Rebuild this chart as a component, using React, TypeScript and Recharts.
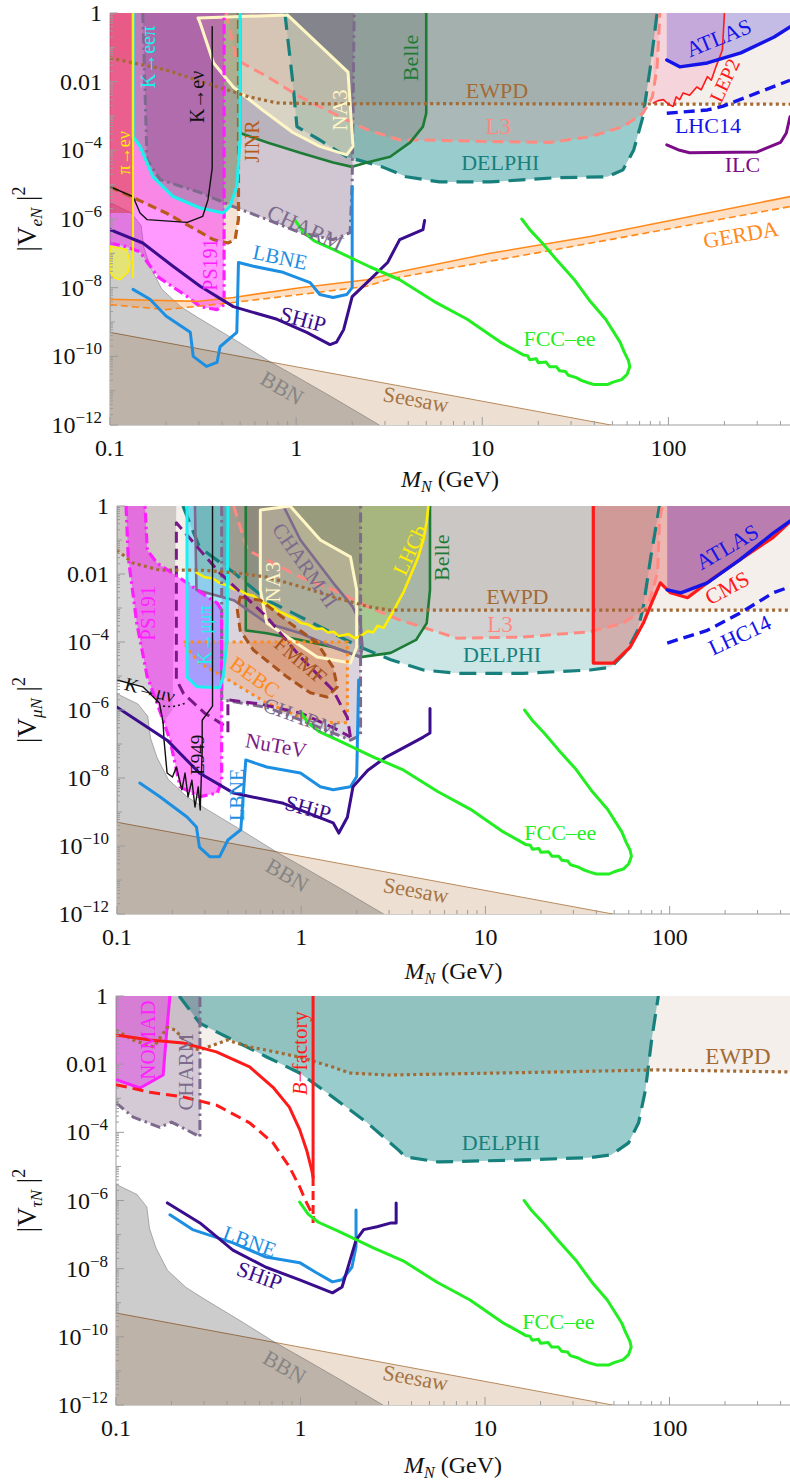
import React from 'react';
import { ComposedChart, Scatter, XAxis, YAxis } from 'recharts';

type Pt = [number, number];

const SERIF = "'Liberation Serif', Tinos, 'Nimbus Roman', 'Times New Roman', 'DejaVu Serif', FreeSerif, serif";
const FRAME = '#9c9c9c';
const X_DOMAIN: [number, number] = [0.1, 450];
const Y_DOMAIN: [number, number] = [1e-12, 1];

// ---------- axis ticks ----------
const xMajorTicks = [0.1, 1, 10, 100];
const xTickLabels = ['0.1', '1', '10', '100'];
const yMajorTicks = [1, 1e-2, 1e-4, 1e-6, 1e-8, 1e-10, 1e-12];
const yTickLabels = ['1', '0.01', '10^−4', '10^−6', '10^−8', '10^−10', '10^−12'];
const yDecadeTicks = [1e-1, 1e-3, 1e-5, 1e-7, 1e-9, 1e-11];

const xMinorTicks: number[] = [];
[0.1, 1, 10, 100].forEach((d) => {
  for (let m = 2; m <= 9; m++) if (m * d <= 450) xMinorTicks.push(m * d);
});
const yMinorTicks: number[] = [];
for (let k = -12; k < 0; k++) for (let m = 2; m <= 9; m++) yMinorTicks.push(m * Math.pow(10, k));

const xTicks = [...xMajorTicks, ...xMinorTicks].sort((a, b) => a - b);
const yTicks = [...yMajorTicks, ...yDecadeTicks, ...yMinorTicks].sort((a, b) => a - b);

// ---------- curves shared by all three panels ----------
const bbn: Pt[] = [[0.1, 3e-6], [0.13, 1.5e-6], [0.147, 6.5e-7], [0.152, 1.5e-7], [0.165, 4e-8], [0.19, 9e-9], [0.24, 2.8e-9], [0.3, 1.3e-9], [0.47, 3e-10], [0.74, 6.5e-11], [1.0, 2.6e-11], [1.6, 6e-12], [2.8, 1e-12]];
const seesaw: Pt[] = [[0.1, 5e-10], [49, 1e-12]];
const fccEE: Pt[] = [[0.99, 9e-7], [1.1, 4e-7], [1.25, 2.3e-7], [1.58, 1.3e-7], [2.5, 4e-8], [3.6, 1.7e-8], [5.5, 4e-9], [8.3, 1.2e-9], [12.5, 2.6e-10], [16.6, 1.1e-10], [17.5, 1.05e-10], [18, 8e-11], [19.5, 8.5e-11], [20, 6.5e-11], [22, 6.8e-11], [23, 5e-11], [25, 5e-11], [26, 3.8e-11], [28, 3.6e-11], [29, 2.8e-11], [32, 2.4e-11], [34, 2e-11], [37, 1.7e-11], [40, 1.5e-11], [47, 1.5e-11], [50, 1.75e-11], [56, 2.1e-11], [60, 3e-11], [62, 5e-11], [61, 7.5e-11], [58, 1.3e-10], [55, 2.6e-10], [46, 1.2e-9], [38, 4e-9], [31, 1.8e-8], [25, 6.6e-8], [21, 2e-7], [18, 4.9e-7], [16.3, 1e-6]];

// ---------- |V_eN|^2 ----------
const eEWPD: Pt[] = [[0.1, 0.049], [0.2, 0.022], [0.38, 7e-3], [0.56, 3.6e-3], [0.79, 2.4e-3], [1.5, 2.25e-3], [3.6, 2.3e-3], [450, 2.2e-3]];
const eDELPHI: Pt[] = [[0.87, 1], [0.96, 9.3e-3], [1.01, 4.9e-4], [1.34, 2e-4], [1.87, 6.5e-5], [2.9, 3.3e-5], [3.9, 1.7e-5], [5.9, 1.2e-5], [11, 1.2e-5], [25, 1.6e-5], [47, 1.7e-5], [57, 2.7e-5], [65, 1e-4], [73, 9.5e-4], [80, 0.027], [87, 1]];
const eL3: Pt[] = [[0.42, 1], [0.48, 0.043], [0.7, 0.014], [1.05, 3.6e-3], [1.58, 1.2e-3], [2.4, 4e-4], [3.6, 2e-4], [4.8, 2e-4], [11, 1.8e-4], [23, 1.7e-4], [38, 2.5e-4], [57, 4.9e-4], [73, 1.2e-3], [82, 3.6e-3], [87, 0.027], [90, 1]];
const eBelle: Pt[] = [[0.5, 1], [0.5, 3.2e-4], [0.7, 1.7e-4], [1.05, 8.5e-5], [1.58, 4.4e-5], [2.0, 3.3e-5], [2.4, 4.4e-5], [3.2, 6.5e-5], [4.1, 1.7e-4], [4.8, 4.9e-4], [5.0, 1.2e-3], [5.0, 1]];
const eCHARM: Pt[] = [[0.15, 1], [0.158, 5.4e-5], [0.186, 1.4e-5], [0.305, 5.9e-6], [0.46, 2.3e-6], [0.7, 9.6e-7], [1.05, 4e-7], [1.58, 2.5e-7], [1.95, 4e-7], [2.0, 1.1e-5], [2.05, 1]];
const eNA3: Pt[] = [[0.297, 0.72], [0.9, 0.87], [1.9, 0.019], [2.02, 1.3e-4], [1.87, 7.4e-5], [1.34, 1.3e-4], [0.96, 3.3e-4], [0.66, 1.5e-3], [0.46, 7e-3], [0.36, 0.035], [0.305, 0.51]];
const eJINR: Pt[] = [[0.1, 8.7e-6], [0.2, 1.5e-6], [0.36, 2.5e-7], [0.43, 2e-7], [0.47, 2.5e-7], [0.49, 1e-6], [0.49, 1]];
const ePS191: Pt[] = [[0.1, 2e-7], [0.12, 1.6e-7], [0.145, 1.1e-7], [0.18, 2.1e-8], [0.26, 5.5e-9], [0.305, 2.8e-9], [0.376, 2.3e-9], [0.41, 3.2e-9], [0.41, 1]];
const eKeePi: Pt[] = [[0.133, 1], [0.133, 2.5e-4], [0.145, 1.3e-4], [0.17, 1.7e-5], [0.218, 4.5e-6], [0.305, 2.1e-6], [0.405, 1.5e-6], [0.44, 2.3e-6], [0.48, 8.7e-6], [0.5, 2e-4], [0.5, 1]];
const eKeNu: Pt[] = [[0.1, 8.7e-6], [0.133, 4.5e-6], [0.145, 1.5e-6], [0.158, 9.6e-7], [0.26, 8e-7], [0.315, 1.2e-6], [0.336, 3.6e-6], [0.354, 3e-5], [0.354, 0.4]];
const ePiENuBand: Pt[] = [[0.1, 1.5e-6], [0.133, 1.5e-6], [0.133, 1]];
const ePiENuLine: Pt[] = [[0.133, 1], [0.133, 2e-8]];
const ePiENuBlob: Pt[] = [[0.1, 1.6e-7], [0.123, 1.3e-7], [0.128, 5.4e-8], [0.125, 2.8e-8], [0.113, 1.7e-8], [0.104, 2e-8], [0.1, 3e-8]];
const eGerdaUpper: Pt[] = [[0.1, 4.6e-9], [0.3, 4e-9], [0.46, 5.2e-9], [1.05, 1e-8], [2.4, 1.7e-8], [3.6, 2.9e-8], [11, 1e-7], [38, 3.1e-7], [450, 4.5e-6]];
const eGerdaLower: Pt[] = [[0.1, 3.2e-9], [0.2, 2.3e-9], [0.46, 3.7e-9], [1.05, 6.3e-9], [2.4, 1.1e-8], [3.2, 1.8e-8], [25, 1.3e-7], [450, 2.3e-6]];
const eATLAS: Pt[] = [[98, 0.043], [115, 0.027], [162, 0.035], [245, 0.069], [370, 0.2], [450, 0.39]];
const eLEP2: Pt[] = [[83, 2.4e-3], [88, 2.8e-3], [94, 3e-3], [100, 2.2e-3], [106, 1.9e-3], [110, 3.6e-3], [115, 3e-3], [120, 4.7e-3], [130, 4e-3], [142, 7e-3], [150, 5.8e-3], [162, 0.014], [170, 0.011], [180, 0.027], [195, 0.084], [200, 1]];
const eLHC14: Pt[] = [[98, 1.2e-3], [162, 1.5e-3], [195, 1.9e-3], [300, 4.7e-3], [450, 0.011]];
const eILC: Pt[] = [[98, 1.45e-4], [115, 1e-4], [130, 8.5e-5], [300, 9e-5], [400, 1.7e-4], [430, 3.2e-4], [450, 9.5e-4]];
const eLBNE: Pt[] = [[0.133, 8.9e-9], [0.164, 4.6e-9], [0.2, 1.5e-9], [0.27, 5e-10], [0.28, 1e-10], [0.33, 5.1e-11], [0.376, 6.7e-11], [0.39, 1.9e-10], [0.48, 5e-10], [0.49, 5.4e-8], [0.59, 4.2e-8], [0.85, 2.8e-8], [1.19, 1.4e-8], [1.34, 6.3e-9], [1.58, 5.2e-9], [1.87, 6.3e-9], [2.0, 1e-8], [2.0, 8.7e-6]];
const eSHiP: Pt[] = [[0.1, 4.9e-7], [0.15, 2e-7], [0.218, 4.2e-8], [0.305, 1.1e-8], [0.46, 2.8e-9], [0.79, 1.2e-9], [1.14, 5e-10], [1.52, 2.2e-10], [1.65, 2.6e-10], [1.8, 6e-10], [2.0, 5.5e-9], [2.4, 1.4e-8], [3.1, 5.4e-8], [3.6, 2.5e-7], [4.8, 4.9e-7], [4.9, 9e-7]];

// ---------- |V_muN|^2 ----------
const mEWPD: Pt[] = [[0.1, 0.051], [0.122, 0.021], [0.17, 0.013], [0.28, 0.013], [0.43, 0.011], [0.65, 8.1e-3], [1, 4.2e-3], [1.5, 2.1e-3], [2.3, 1.1e-3], [3, 8.7e-4], [450, 8.7e-4]];
const mDELPHI: Pt[] = [[0.228, 1], [0.28, 0.062], [0.43, 0.011], [0.65, 1.7e-3], [0.99, 5.5e-4], [1.49, 1.8e-4], [2.1, 7e-5], [3.06, 3e-5], [4.6, 1.5e-5], [7, 1.2e-5], [16, 1.2e-5], [37, 1.5e-5], [48, 1.8e-5], [59, 5.8e-5], [67, 2.2e-4], [72, 1.1e-3], [79, 0.032], [86, 0.47], [88, 1]];
const mL3: Pt[] = [[0.43, 1], [0.51, 0.051], [0.65, 0.026], [0.99, 8.1e-3], [1.49, 3.4e-3], [2.3, 1.1e-3], [3.4, 4.5e-4], [7, 1.3e-4], [16, 1.4e-4], [37, 2e-4], [56, 3.6e-4], [76, 1.1e-3], [86, 0.011], [88, 0.32], [91, 1]];
const mBelle: Pt[] = [[0.5, 1], [0.5, 2.2e-4], [0.65, 1.8e-4], [0.99, 1.15e-4], [1.49, 7e-5], [2.1, 3.6e-5], [3.06, 4.8e-5], [4.2, 1.15e-4], [4.8, 3.6e-4], [5, 3.4e-3], [5, 1]];
const mLHCb: Pt[] = [[0.27, 0.011], [0.3, 8e-3], [0.33, 7.5e-3], [0.36, 5.5e-3], [0.4, 4.5e-3], [0.43, 3.6e-3], [0.47, 3.2e-3], [0.5, 2.6e-3], [0.55, 2.3e-3], [0.6, 1.6e-3], [0.65, 1.3e-3], [0.7, 1.1e-3], [0.75, 8e-4], [0.8, 7e-4], [0.87, 5.5e-4], [0.93, 4.8e-4], [1.0, 3.6e-4], [1.1, 3.2e-4], [1.2, 2.4e-4], [1.3, 2.5e-4], [1.4, 1.9e-4], [1.5, 2e-4], [1.6, 1.5e-4], [1.8, 1.7e-4], [1.95, 1.3e-4], [2.1, 1.5e-4], [2.3, 2.1e-4], [2.45, 1.9e-4], [2.6, 3e-4], [2.8, 2.6e-4], [3.0, 5e-4], [3.2, 9e-4], [3.4, 1.7e-3], [3.6, 3e-3], [3.8, 6e-3], [4.1, 0.016], [4.3, 0.03], [4.6, 0.1], [4.8, 0.35], [4.9, 1]];
const mCHARMII: Pt[] = [[0.265, 1], [0.27, 3.4e-3], [0.43, 1.7e-3], [0.65, 3.6e-4], [0.99, 1.8e-4], [1.49, 7e-5], [2.1, 3.6e-5], [2.15, 7e-5], [2.1, 3.6e-4], [1.9, 1.1e-3], [1.49, 5.5e-3], [0.99, 0.1], [0.8, 1]];
const mNA3: Pt[] = [[0.6, 0.76], [0.87, 1], [1.27, 0.1], [1.85, 0.032], [2.0, 3.4e-3], [2.0, 7e-5], [1.85, 2.4e-5], [1.22, 3.6e-5], [0.65, 3.6e-4], [0.6, 3.4e-3]];
const mFMMF: Pt[] = [[0.466, 2.1e-3], [0.6, 1.7e-3], [0.87, 3.6e-4], [1.22, 9.3e-5], [1.49, 1.8e-5], [1.57, 4.8e-6], [1.38, 2.4e-6], [1.12, 3.2e-6], [0.84, 9.3e-6], [0.55, 5.8e-5], [0.466, 2.2e-4], [0.45, 8.7e-4]];
const mBEBC: Pt[] = [[0.23, 1e-4], [1.78, 1e-4], [1.78, 4.2e-7], [1.49, 4.2e-7], [0.99, 6.2e-7], [0.65, 1.6e-6], [0.43, 6.2e-6], [0.28, 2.4e-5], [0.25, 5e-5]];
const mCHARM: Pt[] = [[0.37, 1], [0.37, 2e-6], [0.65, 1.2e-6], [0.99, 5.1e-7], [1.49, 2.1e-7], [1.85, 1.3e-7], [2.1, 1.8e-7], [2.1, 1]];
const mNuTeVUpper: Pt[] = [[1.85, 1.6e-7], [1.78, 6e-7], [1.49, 3.8e-6], [0.99, 3.6e-5], [0.65, 5.5e-4], [0.36, 0.011], [0.21, 0.32], [0.21, 8e-6], [0.23, 3e-6], [0.3, 8e-7], [0.4, 3e-7]];
const mNuTeVLower: Pt[] = [[0.4, 2.2e-7], [0.4, 2e-6], [0.6, 1.5e-6], [1.0, 8e-7], [1.5, 3e-7], [1.85, 1.6e-7]];
const mPS191: Pt[] = [[0.112, 1], [0.115, 0.032], [0.128, 3.6e-4], [0.146, 9.3e-6], [0.165, 1.6e-6], [0.194, 1.3e-7], [0.22, 5.5e-9], [0.28, 2.8e-9], [0.35, 3.6e-9], [0.37, 8e-9], [0.37, 8.7e-4], [0.35, 1.4e-3], [0.31, 2.1e-3], [0.24, 5.5e-3], [0.165, 0.021], [0.146, 0.05], [0.142, 1]];
const mKmumupi: Pt[] = [[0.24, 1], [0.24, 9.3e-6], [0.272, 4.8e-6], [0.36, 4.5e-6], [0.377, 9.3e-6], [0.396, 1.1e-4], [0.4, 1]];
const mKmunuRegion: Pt[] = [[0.1, 7.6e-6], [0.138, 4.8e-6], [0.17, 1.6e-6], [0.178, 4.2e-7], [0.2, 1e-6], [0.21, 1]];
const mKmunuLine: Pt[] = [[0.1, 7.6e-6], [0.138, 4.8e-6], [0.17, 1.6e-6], [0.178, 4.2e-7]];
const mKmunuDotted: Pt[] = [[0.178, 1.3e-6], [0.2, 1.25e-6], [0.22, 1.4e-6], [0.236, 1.6e-6]];
const mE949: Pt[] = [[0.178, 4.2e-7], [0.18, 1.3e-7], [0.187, 1.4e-8], [0.2, 1.07e-8], [0.21, 2.1e-8], [0.225, 4.5e-9], [0.234, 1.4e-8], [0.243, 2.8e-9], [0.255, 8.7e-9], [0.265, 1.4e-9], [0.276, 5.5e-9], [0.283, 1.15e-9], [0.29, 6.6e-8], [0.29, 5e-7], [0.33, 1.3e-6], [0.33, 1]];
const mATLAS: Pt[] = [[97, 3.4e-3], [115, 2.8e-3], [160, 5.5e-3], [240, 0.026], [365, 0.16], [450, 0.36]];
const mCMS: Pt[] = [[38.5, 1], [38.5, 2.4e-5], [49.5, 2.4e-5], [61, 7e-5], [72, 3.6e-4], [81, 1.7e-3], [89, 5.5e-3], [101, 2.8e-3], [125, 2e-3], [167, 6.6e-3], [240, 0.026], [365, 0.12], [450, 0.34]];
const mLHC14: Pt[] = [[97, 9.3e-5], [160, 2.2e-4], [240, 7e-4], [365, 2.8e-3], [450, 4.2e-3]];
const mLBNE: Pt[] = [[0.133, 7.1e-9], [0.171, 2.8e-9], [0.24, 7.1e-10], [0.27, 3.6e-10], [0.28, 9.3e-11], [0.32, 4.8e-11], [0.36, 4.8e-11], [0.4, 1.5e-10], [0.47, 3e-10], [0.5, 3.4e-8], [0.65, 2.1e-8], [0.99, 1.4e-8], [1.27, 5.5e-9], [1.49, 4.5e-9], [1.85, 5.5e-9], [2.0, 1.1e-8], [2.05, 7.6e-6]];
const mSHiP: Pt[] = [[0.1, 1.2e-6], [0.187, 1.3e-7], [0.28, 1.4e-8], [0.43, 3.6e-9], [0.8, 1.8e-9], [1.49, 4.8e-10], [1.6, 2.4e-10], [1.78, 7e-10], [1.91, 5.5e-9], [2.3, 1.7e-8], [2.9, 4.2e-8], [3.4, 6.6e-8], [4.6, 1.6e-7], [5, 2.1e-7], [5, 1.1e-6]];

// ---------- |V_tauN|^2 ----------
const tEWPD: Pt[] = [[0.1, 0.1], [0.124, 0.051], [0.16, 0.032], [0.19, 0.12], [0.21, 0.1], [0.25, 0.032], [0.285, 0.026], [0.4, 0.051], [0.53, 0.032], [0.65, 0.026], [0.99, 0.016], [1.49, 8.3e-3], [1.84, 5.5e-3], [3, 4.8e-3], [24, 5.9e-3], [84, 6.8e-3], [450, 5.9e-3]];
const tDELPHI: Pt[] = [[0.22, 1], [0.284, 0.16], [0.43, 0.051], [0.66, 0.016], [0.99, 5.5e-3], [1.49, 1.1e-3], [2.3, 1.9e-4], [3.4, 3e-5], [3.7, 1.9e-5], [5.6, 1.35e-5], [15.8, 1.55e-5], [36.5, 1.8e-5], [48.5, 2.2e-5], [60, 4.9e-5], [68, 1.9e-4], [74, 1.7e-3], [80, 0.051], [87, 1]];
const tCHARM: Pt[] = [[0.1, 7.3e-4], [0.124, 2.8e-4], [0.173, 1.4e-4], [0.2, 2e-4], [0.24, 1.2e-4], [0.285, 7.4e-5], [0.285, 1]];
const tNOMAD: Pt[] = [[0.1, 3.5e-3], [0.135, 2e-3], [0.18, 4.8e-3], [0.19, 0.16], [0.196, 1]];
const tBfacSolid: Pt[] = [[0.1, 0.072], [0.153, 0.051], [0.23, 0.042], [0.35, 0.023], [0.53, 8.3e-3], [0.71, 2.1e-3], [0.87, 5.5e-4], [0.99, 1.2e-4], [1.08, 3e-5], [1.15, 7.9e-6], [1.17, 4.9e-6]];
const tBfacDashed: Pt[] = [[0.1, 2.5e-3], [0.153, 1.5e-3], [0.23, 1.1e-3], [0.35, 6.3e-4], [0.53, 1.9e-4], [0.71, 4.9e-5], [0.87, 9.8e-6], [0.99, 2.5e-6], [1.08, 8.5e-7], [1.15, 4.3e-7], [1.19, 2.7e-7]];
const tBfacEdge: Pt[] = [[1.17, 1], [1.17, 4.9e-6]];
const tBfacEdgeDashed: Pt[] = [[1.17, 4.9e-6], [1.17, 2.2e-7]];
const tLBNE: Pt[] = [[0.196, 3.8e-7], [0.26, 1.4e-7], [0.43, 5.7e-8], [0.65, 2.2e-8], [0.99, 1.5e-8], [1.22, 7.6e-9], [1.49, 4.1e-9], [1.68, 4.7e-9], [1.9, 1.1e-8], [2.0, 4.4e-8], [2.0, 5.3e-7]];
const tSHiP: Pt[] = [[0.19, 8.5e-7], [0.285, 2.2e-7], [0.43, 3.5e-8], [0.65, 1.1e-8], [0.99, 4.7e-9], [1.49, 1.95e-9], [1.68, 2.9e-9], [1.84, 1.5e-8], [2.0, 6.9e-8], [2.2, 1.4e-7], [2.6, 1.7e-7], [3.1, 2.2e-7], [3.3, 2.2e-7], [3.3, 8.5e-7]];

// ---------- text annotations (data coordinates) ----------
type Note = { id: string; text: string; x: number; y: number };
const eNotes: Note[] = [
  { id: 'pienu', text: 'π→eν', x: 0.119, y: 8.5e-5 },
  { id: 'keepi', text: 'K→eeπ', x: 0.16, y: 0.052 },
  { id: 'kenu', text: 'K→eν', x: 0.293, y: 3.6e-3 },
  { id: 'jinr', text: 'JINR', x: 0.58, y: 1.8e-4 },
  { id: 'na3', text: 'NA3', x: 1.72, y: 1.5e-3 },
  { id: 'belle', text: 'Belle', x: 4.1, y: 0.049 },
  { id: 'ewpd', text: 'EWPD', x: 12, y: 5.4e-3 },
  { id: 'l3', text: 'L3', x: 12.2, y: 4.9e-4 },
  { id: 'delphi', text: 'DELPHI', x: 12.5, y: 4.4e-5 },
  { id: 'atlas', text: 'ATLAS', x: 186, y: 0.19 },
  { id: 'lep2', text: 'LEP2', x: 200, y: 0.011 },
  { id: 'lhc14', text: 'LHC14', x: 163, y: 5.2e-4 },
  { id: 'ilc', text: 'ILC', x: 250, y: 3.8e-5 },
  { id: 'gerda', text: 'GERDA', x: 245, y: 3.5e-7 },
  { id: 'charm', text: 'CHARM', x: 1.12, y: 5.6e-7 },
  { id: 'ps191', text: 'PS191', x: 0.345, y: 4.7e-8 },
  { id: 'lbne', text: 'LBNE', x: 0.82, y: 7.6e-8 },
  { id: 'ship', text: 'SHiP', x: 1.09, y: 1.2e-9 },
  { id: 'fcc', text: 'FCC–ee', x: 26, y: 3.2e-10 },
  { id: 'bbn', text: 'BBN', x: 0.84, y: 1.2e-11 },
  { id: 'seesaw', text: 'Seesaw', x: 4.4, y: 5.6e-12 },
];
const mNotes: Note[] = [
  { id: 'ps191', text: 'PS191', x: 0.147, y: 7e-4 },
  { id: 'kmumupi', text: 'K→μμπ', x: 0.3, y: 1.6e-4 },
  { id: 'kmunu', text: 'K→μν', x: 0.151, y: 3.9e-6 },
  { id: 'e949', text: 'E949', x: 0.272, y: 4.8e-8 },
  { id: 'lbneV', text: 'LBNE', x: 0.45, y: 3.2e-9 },
  { id: 'nutev', text: 'NuTeV', x: 0.73, y: 9e-8 },
  { id: 'bebc', text: 'BEBC', x: 0.56, y: 9.3e-6 },
  { id: 'charm', text: 'CHARM', x: 0.99, y: 6.2e-7 },
  { id: 'fmmf', text: 'FMMF', x: 0.99, y: 2.9e-5 },
  { id: 'na3', text: 'NA3', x: 0.7, y: 5.8e-3 },
  { id: 'charm2', text: 'CHARM-II', x: 1.05, y: 0.018 },
  { id: 'lhcb', text: 'LHCb', x: 3.9, y: 0.051 },
  { id: 'belle', text: 'Belle', x: 5.8, y: 0.03 },
  { id: 'ewpd', text: 'EWPD', x: 14.9, y: 2.2e-3 },
  { id: 'l3', text: 'L3', x: 12, y: 3.2e-4 },
  { id: 'delphi', text: 'DELPHI', x: 12.3, y: 4.2e-5 },
  { id: 'atlas', text: 'ATLAS', x: 205, y: 0.063 },
  { id: 'cms', text: 'CMS', x: 205, y: 3.9e-3 },
  { id: 'lhc14', text: 'LHC14', x: 240, y: 1.6e-4 },
  { id: 'ship', text: 'SHiP', x: 1.09, y: 1.3e-9 },
  { id: 'fcc', text: 'FCC–ee', x: 25.5, y: 2.5e-10 },
  { id: 'bbn', text: 'BBN', x: 0.84, y: 1.4e-11 },
  { id: 'seesaw', text: 'Seesaw', x: 4.2, y: 5e-12 },
];
const tNotes: Note[] = [
  { id: 'nomad', text: 'NOMAD', x: 0.149, y: 0.051 },
  { id: 'charmV', text: 'CHARM', x: 0.24, y: 5.9e-3 },
  { id: 'bfac', text: 'B−factory', x: 0.99, y: 0.021 },
  { id: 'ewpd', text: 'EWPD', x: 235, y: 0.017 },
  { id: 'delphi', text: 'DELPHI', x: 12.2, y: 4.9e-5 },
  { id: 'lbne', text: 'LBNE', x: 0.53, y: 6.2e-8 },
  { id: 'ship', text: 'SHiP', x: 0.6, y: 6.2e-9 },
  { id: 'fcc', text: 'FCC–ee', x: 25, y: 2.8e-10 },
  { id: 'bbn', text: 'BBN', x: 0.82, y: 1.3e-11 },
  { id: 'seesaw', text: 'Seesaw', x: 4.2, y: 6.3e-12 },
];

// ---------- styling ----------
const ink = {
  teal: '#17807c',
  salmon: '#ff8a82',
  brown: '#a36a34',
  green: '#1d7b36',
  charm: '#7d6a8c',
  cream: '#fff6c6',
  jinr: '#b85a18',
  magenta: '#ff1eff',
  cyan: '#1ef0f0',
  blue: '#1414e8',
  red: '#ff1a1a',
  purple: '#7a0c88',
  orange: '#ff8a1c',
  lbne: '#1d8fe3',
  ship: '#3a0d8c',
  fcc: '#22ee22',
  yellow: '#ffee00',
  seesaw: '#a67444',
  black: '#111111',
  bebc: '#ff8a1c',
  fmmf: '#a8521c',
  nutev: '#7a1a88',
};

type Look = { fill?: string; edge?: string; width?: number; dash?: string; close?: 'top' | 'bottom' | 'self' | 'open' };
type LayerDef = { data: Pt[]; look: Look };
const lay = (data: Pt[], look: Look): LayerDef => ({ data, look });

const DOT = '3 3.4';
const DASH = '11 6';
const LONGDASH = '17 9';
const DASHDOT = '10 4 2.5 4';

const seesawLook: Look = { fill: '#ede0d3', edge: '#b98a5c', width: 1, close: 'bottom' };
const bbnLook: Look = { fill: 'rgba(0,0,0,0.2)', edge: 'rgba(90,90,90,0.55)', width: 0.8, close: 'bottom' };
const fccLook: Look = { edge: ink.fcc, width: 3 };
const ewpdLine: Look = { edge: ink.brown, width: 3.2, dash: DOT };
const ewpdArea: Look = { fill: 'rgba(150,100,50,0.1)', close: 'top' };

const eLayers: LayerDef[] = [
  lay(seesaw, seesawLook),
  lay(bbn, bbnLook),
  lay([...eGerdaUpper, ...[...eGerdaLower].reverse()], { fill: 'rgba(255,150,60,0.3)', close: 'self' }),
  lay(eEWPD, ewpdArea),
  lay(eDELPHI, { fill: 'rgba(0,128,128,0.4)', close: 'top' }),
  lay(eL3, { fill: 'rgba(255,90,90,0.17)', close: 'top' }),
  lay(eLEP2, { fill: 'rgba(255,80,140,0.16)', close: 'top' }),
  lay(eATLAS, { fill: 'rgba(90,70,220,0.3)', close: 'top' }),
  lay(eBelle, { fill: 'rgba(40,70,50,0.15)', close: 'top' }),
  lay(eCHARM, { fill: 'rgba(100,70,110,0.3)', close: 'top' }),
  lay(eNA3, { fill: 'rgba(255,250,205,0.45)', close: 'self' }),
  lay(eJINR, { fill: 'rgba(210,110,40,0.2)', close: 'top' }),
  lay(ePS191, { fill: 'rgba(255,0,255,0.4)', close: 'top' }),
  lay(ePiENuBand, { fill: 'rgba(215,40,20,0.42)', close: 'top' }),
  lay(eKeePi, { fill: 'rgba(0,110,60,0.22)', close: 'top' }),
  lay(ePiENuBlob, { fill: 'rgba(235,235,90,0.75)', edge: ink.yellow, width: 1.5, close: 'self' }),
  lay(eDELPHI, { edge: ink.teal, width: 3.2, dash: LONGDASH }),
  lay(eL3, { edge: ink.salmon, width: 3, dash: DASH }),
  lay(eBelle, { edge: ink.green, width: 2.6 }),
  lay(eCHARM, { edge: ink.charm, width: 3, dash: DASHDOT }),
  lay(eNA3, { edge: ink.cream, width: 3, close: 'self' }),
  lay(eJINR, { edge: ink.jinr, width: 3.2, dash: '9 5' }),
  lay(ePS191, { edge: ink.magenta, width: 3.2, dash: DASHDOT }),
  lay(eKeePi, { edge: ink.cyan, width: 3.2 }),
  lay(eKeNu, { edge: ink.black, width: 1.4 }),
  lay(ePiENuLine, { edge: ink.yellow, width: 2 }),
  lay(eEWPD, ewpdLine),
  lay(eLEP2, { edge: ink.red, width: 1.6 }),
  lay(eATLAS, { edge: ink.blue, width: 3.4 }),
  lay(eLHC14, { edge: ink.blue, width: 3.4, dash: DASH }),
  lay(eILC, { edge: ink.purple, width: 3 }),
  lay(eGerdaUpper, { edge: ink.orange, width: 1.6 }),
  lay(eGerdaLower, { edge: ink.orange, width: 1.6, dash: '7 4' }),
  lay(eLBNE, { edge: ink.lbne, width: 3 }),
  lay(eSHiP, { edge: ink.ship, width: 3 }),
  lay(fccEE, fccLook),
];

const mLayers: LayerDef[] = [
  lay(seesaw, seesawLook),
  lay(bbn, bbnLook),
  lay(mKmunuRegion, { fill: 'rgba(0,0,0,0.17)', close: 'top' }),
  lay(mEWPD, ewpdArea),
  lay(mDELPHI, { fill: 'rgba(0,128,128,0.2)', close: 'top' }),
  lay(mL3, { fill: 'rgba(255,90,90,0.14)', close: 'top' }),
  lay(mCMS, { fill: 'rgba(220,50,50,0.3)', close: 'top' }),
  lay(mATLAS, { fill: 'rgba(110,40,170,0.4)', close: 'top' }),
  lay(mLHCb, { fill: 'rgba(200,200,0,0.25)', close: 'top' }),
  lay(mBelle, { fill: 'rgba(10,100,40,0.18)', close: 'top' }),
  lay(mCHARMII, { fill: 'rgba(110,90,130,0.25)', close: 'top' }),
  lay(mNA3, { fill: 'rgba(255,250,205,0.4)', close: 'self' }),
  lay(mCHARM, { fill: 'rgba(110,80,120,0.25)', close: 'top' }),
  lay(mBEBC, { fill: 'rgba(255,140,60,0.28)', close: 'self' }),
  lay(mFMMF, { fill: 'rgba(190,90,30,0.3)', close: 'self' }),
  lay(mPS191, { fill: 'rgba(255,0,255,0.45)', close: 'top' }),
  lay(mKmumupi, { fill: 'rgba(0,190,255,0.35)', close: 'top' }),
  lay(mDELPHI, { edge: ink.teal, width: 3.2, dash: LONGDASH }),
  lay(mL3, { edge: ink.salmon, width: 3, dash: DASH }),
  lay(mBelle, { edge: ink.green, width: 2.6 }),
  lay(mCHARMII, { edge: ink.charm, width: 2.6 }),
  lay(mNA3, { edge: ink.cream, width: 3, close: 'self' }),
  lay(mLHCb, { edge: ink.yellow, width: 2.6 }),
  lay(mCHARM, { edge: ink.charm, width: 3, dash: DASHDOT }),
  lay(mBEBC, { edge: ink.bebc, width: 3, dash: '3 4', close: 'self' }),
  lay(mFMMF, { edge: ink.fmmf, width: 3, dash: '9 5', close: 'self' }),
  lay(mNuTeVUpper, { edge: ink.nutev, width: 3, dash: DASH }),
  lay(mNuTeVLower, { edge: ink.nutev, width: 3, dash: DASH }),
  lay(mPS191, { edge: ink.magenta, width: 3.2, dash: DASHDOT }),
  lay(mKmumupi, { edge: ink.cyan, width: 3 }),
  lay(mE949, { edge: ink.black, width: 1.4 }),
  lay(mKmunuLine, { edge: ink.black, width: 1.4 }),
  lay(mKmunuDotted, { edge: ink.black, width: 1.6, dash: '2 3' }),
  lay(mEWPD, ewpdLine),
  lay(mCMS, { edge: ink.red, width: 3.2 }),
  lay(mATLAS, { edge: ink.blue, width: 3.4 }),
  lay(mLHC14, { edge: ink.blue, width: 3.4, dash: DASH }),
  lay(mLBNE, { edge: ink.lbne, width: 3 }),
  lay(mSHiP, { edge: ink.ship, width: 3 }),
  lay(fccEE, fccLook),
];

const tLayers: LayerDef[] = [
  lay(seesaw, seesawLook),
  lay(bbn, bbnLook),
  lay(tEWPD, ewpdArea),
  lay(tDELPHI, { fill: 'rgba(0,128,128,0.4)', close: 'top' }),
  lay(tCHARM, { fill: 'rgba(110,80,120,0.3)', close: 'top' }),
  lay(tNOMAD, { fill: 'rgba(230,30,230,0.4)', close: 'top' }),
  lay(tDELPHI, { edge: ink.teal, width: 3.2, dash: LONGDASH }),
  lay(tCHARM, { edge: ink.charm, width: 3, dash: DASHDOT }),
  lay(tNOMAD, { edge: ink.magenta, width: 3 }),
  lay(tEWPD, ewpdLine),
  lay(tBfacSolid, { edge: ink.red, width: 3 }),
  lay(tBfacDashed, { edge: ink.red, width: 3, dash: DASH }),
  lay(tBfacEdge, { edge: ink.red, width: 3 }),
  lay(tBfacEdgeDashed, { edge: ink.red, width: 3, dash: '9 5' }),
  lay(tLBNE, { edge: ink.lbne, width: 3 }),
  lay(tSHiP, { edge: ink.ship, width: 3 }),
  lay(fccEE, fccLook),
];

type NoteLook = { color: string; angle: number; size: number };
const shared: Record<string, NoteLook> = {
  ewpd: { color: ink.brown, angle: 0, size: 22 },
  l3: { color: ink.salmon, angle: 0, size: 23 },
  delphi: { color: ink.teal, angle: 0, size: 22 },
  belle: { color: ink.green, angle: -90, size: 22 },
  fcc: { color: ink.fcc, angle: 0, size: 22 },
  bbn: { color: '#858585', angle: 30, size: 22 },
  seesaw: { color: ink.seesaw, angle: 10, size: 22 },
  ship: { color: ink.ship, angle: 15, size: 22 },
  lbne: { color: ink.lbne, angle: 12, size: 21 },
};
const eNoteLooks: Record<string, NoteLook> = {
  ...shared,
  pienu: { color: ink.yellow, angle: -90, size: 18 },
  keepi: { color: ink.cyan, angle: -90, size: 20 },
  kenu: { color: ink.black, angle: -90, size: 20 },
  jinr: { color: ink.jinr, angle: -90, size: 20 },
  na3: { color: ink.cream, angle: -90, size: 21 },
  atlas: { color: ink.blue, angle: -22, size: 22 },
  lep2: { color: ink.red, angle: -65, size: 20 },
  lhc14: { color: ink.blue, angle: 0, size: 22 },
  ilc: { color: ink.purple, angle: 0, size: 22 },
  gerda: { color: ink.orange, angle: -10, size: 22 },
  charm: { color: ink.charm, angle: 25, size: 22 },
  ps191: { color: ink.magenta, angle: -90, size: 20 },
};
const mNoteLooks: Record<string, NoteLook> = {
  ...shared,
  ps191: { color: ink.magenta, angle: -90, size: 21 },
  kmumupi: { color: ink.cyan, angle: -90, size: 18 },
  kmunu: { color: ink.black, angle: 15, size: 19 },
  e949: { color: ink.black, angle: -90, size: 19 },
  lbneV: { color: ink.lbne, angle: -90, size: 20 },
  nutev: { color: ink.nutev, angle: 10, size: 21 },
  bebc: { color: ink.bebc, angle: 35, size: 21 },
  charm: { color: ink.charm, angle: 20, size: 21 },
  fmmf: { color: ink.fmmf, angle: 40, size: 21 },
  na3: { color: ink.cream, angle: -90, size: 21 },
  charm2: { color: ink.charm, angle: 55, size: 21 },
  lhcb: { color: ink.yellow, angle: -65, size: 21 },
  atlas: { color: ink.blue, angle: -30, size: 22 },
  cms: { color: ink.red, angle: -28, size: 22 },
  lhc14: { color: ink.blue, angle: -25, size: 22 },
};
const tNoteLooks: Record<string, NoteLook> = {
  ...shared,
  nomad: { color: ink.magenta, angle: -90, size: 21 },
  charmV: { color: ink.charm, angle: -90, size: 21 },
  bfac: { color: ink.red, angle: -90, size: 21 },
  ewpd: { color: ink.brown, angle: 0, size: 23 },
  lbne: { color: ink.lbne, angle: 20, size: 21 },
  ship: { color: ink.ship, angle: 20, size: 22 },
};

// ---------- drawing helpers ----------
const toXY = (pts: Pt[]) => pts.map(([x, y]) => ({ x, y }));
const noDot = () => <g />;
const serifStyle: React.CSSProperties = { fontFamily: SERIF };

function RegionPath(props: any) {
  const { points, look, top, bottom } = props as { points: { x: number; y: number }[]; look: Look; top: number; bottom: number };
  const pts = (points || []).filter((p) => Number.isFinite(p.x) && Number.isFinite(p.y));
  if (pts.length < 2) return null;
  const line = pts.map((p, i) => `${i ? 'L' : 'M'}${p.x.toFixed(2)},${p.y.toFixed(2)}`).join('');
  const first = pts[0];
  const last = pts[pts.length - 1];
  let area = '';
  if (look.fill) {
    if (look.close === 'top') area = `${line}L${last.x.toFixed(2)},${top}L${first.x.toFixed(2)},${top}Z`;
    else if (look.close === 'bottom') area = `${line}L${last.x.toFixed(2)},${bottom}L${first.x.toFixed(2)},${bottom}Z`;
    else area = `${line}Z`;
  }
  return (
    <g>
      {area && <path d={area} fill={look.fill} stroke="none" />}
      {look.edge && (
        <path
          d={look.close === 'self' ? `${line}Z` : line}
          fill="none"
          stroke={look.edge}
          strokeWidth={look.width ?? 2}
          strokeDasharray={look.dash}
          strokeLinejoin="round"
          strokeLinecap={look.dash ? 'butt' : 'round'}
        />
      )}
    </g>
  );
}

function NoteText(props: any) {
  const { cx, cy, payload, looks } = props;
  const lk: NoteLook = looks[payload.id];
  if (!lk || !Number.isFinite(cx)) return <g />;
  const isB = payload.id === 'bfac';
  return (
    <text
      x={cx}
      y={cy}
      transform={lk.angle ? `rotate(${lk.angle} ${cx} ${cy})` : undefined}
      textAnchor="middle"
      dominantBaseline="central"
      style={serifStyle}
      fontSize={lk.size}
      fill={lk.color}
    >
      {isB ? (
        <>
          <tspan fontStyle="italic">{payload.text.slice(0, 1)}</tspan>
          <tspan>{payload.text.slice(1)}</tspan>
        </>
      ) : (
        payload.text
      )}
    </text>
  );
}

const near = (a: number, b: number) => Math.abs(Math.log10(a) - Math.log10(b)) < 1e-6;

function BottomTick(props: any) {
  const { x, y, payload } = props;
  const v = payload.value as number;
  const idx = xMajorTicks.findIndex((t) => near(t, v));
  const len = idx >= 0 ? 8 : 4;
  return (
    <g>
      <line x1={x} x2={x} y1={y} y2={y - len} stroke={FRAME} strokeWidth={1} />
      {idx >= 0 && (
        <text x={x} y={y + 31} textAnchor="middle" style={serifStyle} fontSize={24} fill="#111">
          {xTickLabels[idx]}
        </text>
      )}
    </g>
  );
}

function TopTick(props: any) {
  const { x, y, payload } = props;
  const v = payload.value as number;
  const len = xMajorTicks.some((t) => near(t, v)) ? 8 : 4;
  return <line x1={x} x2={x} y1={y} y2={y + len} stroke={FRAME} strokeWidth={1} />;
}

function yTickLen(v: number) {
  if (yMajorTicks.some((t) => near(t, v))) return 8;
  if (yDecadeTicks.some((t) => near(t, v))) return 5;
  return 3;
}

function LeftTick(props: any) {
  const { x, y, payload } = props;
  const v = payload.value as number;
  const idx = yMajorTicks.findIndex((t) => near(t, v));
  const len = yTickLen(v);
  let label: React.ReactNode = null;
  if (idx >= 0) {
    const [base, exp] = yTickLabels[idx].split('^');
    label = (
      <text x={x - 8} y={y + 8} textAnchor="end" style={serifStyle} fontSize={24} fill="#111">
        {base}
        {exp && (
          <tspan dy={-10} fontSize={17}>
            {exp}
          </tspan>
        )}
      </text>
    );
  }
  return (
    <g>
      <line x1={x} x2={x + len} y1={y} y2={y} stroke={FRAME} strokeWidth={1} />
      {label}
    </g>
  );
}

function RightTick(props: any) {
  const { x, y, payload } = props;
  const len = yTickLen(payload.value as number);
  return <line x1={x} x2={x - len} y1={y} y2={y} stroke={FRAME} strokeWidth={1} />;
}

function XTitle({ px, py }: any) {
  return (
    <text x={px} y={py} textAnchor="middle" style={serifStyle} fontSize={24} fill="#111">
      <tspan fontStyle="italic">M</tspan>
      <tspan fontStyle="italic" fontSize={16} dy={5}>N</tspan>
      <tspan dy={-5}>{'  (GeV)'}</tspan>
    </text>
  );
}

function YTitle({ px, py, sub }: any) {
  return (
    <text x={px} y={py} transform={`rotate(-90 ${px} ${py})`} textAnchor="middle" style={serifStyle} fontSize={27} fill="#111">
      <tspan>|</tspan>
      <tspan>V</tspan>
      <tspan fontStyle="italic" fontSize={17} dy={6}>{sub}</tspan>
      <tspan dy={-6}>{' |'}</tspan>
      <tspan fontSize={18} dy={-11}>2</tspan>
    </text>
  );
}

type Geo = { height: number; yAxisWidth: number; plotTop: number; plotBottom: number; titleGap: number };

function Panel({ geo, layers, notes, looks, sub }: { geo: Geo; layers: LayerDef[]; notes: Note[]; looks: Record<string, NoteLook>; sub: string }) {
  const { height, yAxisWidth, plotTop, plotBottom, titleGap } = geo;
  return (
    <ComposedChart width={790} height={height} margin={{ top: plotTop, right: 0, left: 0, bottom: height - plotBottom - 30 }}>
      {layers.map((ly, i) => (
        <Scatter
          key={i}
          data={toXY(ly.data)}
          isAnimationActive={false}
          shape={noDot}
          legendType="none"
          line={<RegionPath look={ly.look} top={plotTop} bottom={plotBottom} />}
        />
      ))}
      <Scatter data={notes} isAnimationActive={false} legendType="none" shape={(p: any) => <NoteText {...p} looks={looks} />} />
      <XAxis
        type="number"
        dataKey="x"
        scale="log"
        domain={X_DOMAIN}
        allowDataOverflow
        ticks={xTicks}
        interval={0}
        tickSize={0}
        tickMargin={0}
        tickLine={false}
        axisLine={{ stroke: FRAME }}
        height={30}
        tick={<BottomTick />}
        label={<XTitle px={(yAxisWidth + 790) / 2} py={plotBottom + titleGap} />}
      />
      <XAxis
        xAxisId="top"
        orientation="top"
        type="number"
        dataKey="x"
        scale="log"
        domain={X_DOMAIN}
        allowDataOverflow
        ticks={xTicks}
        interval={0}
        tickSize={0}
        tickMargin={0}
        tickLine={false}
        axisLine={{ stroke: FRAME }}
        height={0}
        tick={<TopTick />}
      />
      <YAxis
        type="number"
        dataKey="y"
        scale="log"
        domain={Y_DOMAIN}
        allowDataOverflow
        ticks={yTicks}
        interval={0}
        tickSize={0}
        tickMargin={0}
        tickLine={false}
        axisLine={{ stroke: FRAME }}
        width={yAxisWidth}
        tick={<LeftTick />}
        label={<YTitle px={36} py={(plotTop + plotBottom) / 2} sub={sub} />}
      />
      <YAxis
        yAxisId="right"
        orientation="right"
        type="number"
        dataKey="y"
        scale="log"
        domain={Y_DOMAIN}
        allowDataOverflow
        ticks={yTicks}
        interval={0}
        tickSize={0}
        tickMargin={0}
        tickLine={false}
        axisLine={{ stroke: FRAME }}
        width={0}
        tick={<RightTick />}
      />
    </ComposedChart>
  );
}

const geoE: Geo = { height: 500, yAxisWidth: 110, plotTop: 13, plotBottom: 425, titleGap: 62 };
const geoM: Geo = { height: 500, yAxisWidth: 117, plotTop: 13, plotBottom: 421, titleGap: 65 };
const geoT: Geo = { height: 498, yAxisWidth: 116, plotTop: 13, plotBottom: 422, titleGap: 68 };

export default function App() {
  return (
    <div style={{ position: 'absolute', left: 0, top: 0, width: 790, height: 1481, background: '#ffffff', overflow: 'hidden' }}>
      <div style={{ position: 'absolute', left: 0, top: 0 }}>
        <Panel geo={geoE} layers={eLayers} notes={eNotes} looks={eNoteLooks} sub="eN" />
      </div>
      <div style={{ position: 'absolute', left: 0, top: 493 }}>
        <Panel geo={geoM} layers={mLayers} notes={mNotes} looks={mNoteLooks} sub="μN" />
      </div>
      <div style={{ position: 'absolute', left: 0, top: 983 }}>
        <Panel geo={geoT} layers={tLayers} notes={tNotes} looks={tNoteLooks} sub="τN" />
      </div>
    </div>
  );
}
